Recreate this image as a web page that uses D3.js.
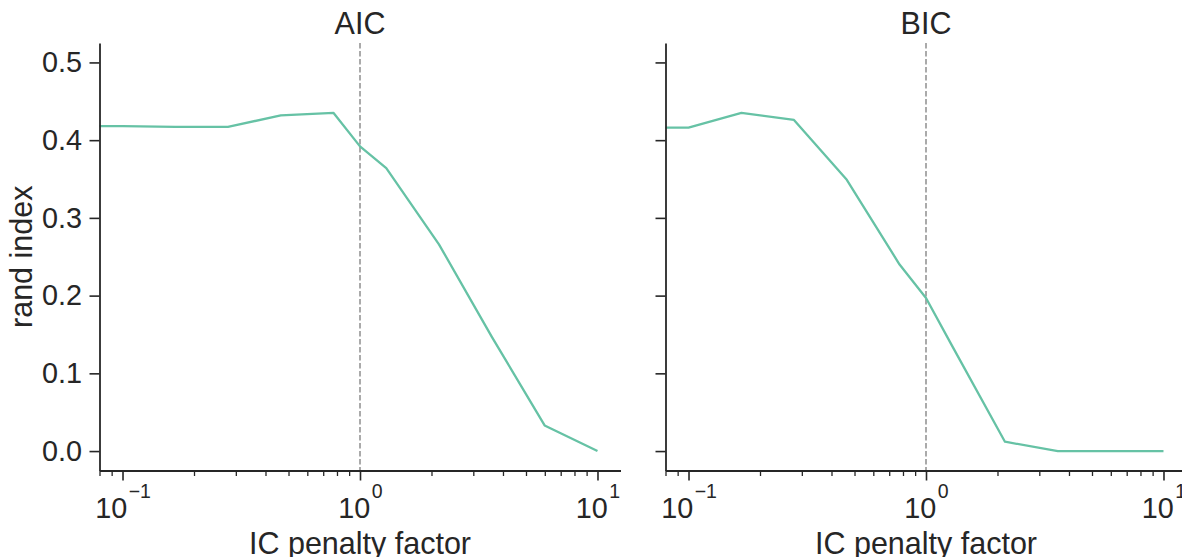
<!DOCTYPE html>
<html>
<head>
<meta charset="utf-8">
<script src="https://cdn.jsdelivr.net/npm/d3@7"></script>
<style>
  html, body { margin: 0; padding: 0; background: #fff; overflow: hidden; }
  svg { display: block; font-family: "Liberation Sans", Arial, sans-serif; }
  .axis text { fill: #262626; }
  .axis path, .axis line { stroke: #262626; }
</style>
</head>
<body>
<svg id="chart" width="1182" height="557"></svg>
<script>
// IC penalty factors (the first entry lies below the visible x range)
const penaltyFactors = [0.01, 0.1, 0.167, 0.278, 0.464, 0.774, 1.0, 1.29, 2.15, 3.59, 5.99, 10];
// rand index per penalty factor
const aicRandIndex = [0.418, 0.418, 0.417, 0.417, 0.432, 0.435, 0.392, 0.364, 0.266, 0.147, 0.033, 0.0];
const bicRandIndex = [0.416, 0.416, 0.435, 0.426, 0.349, 0.240, 0.197, 0.135, 0.012, 0.0, 0.0, 0.0];
const panelTitles = ["AIC", "BIC"];
const yTicks = [0.0, 0.1, 0.2, 0.3, 0.4, 0.5];
const xMajorTicks = [0.1, 1, 10];
const xTickExponents = ["\u22121", "0", "1"];
const referenceFactor = 1;
const xLimits = [0.08, 12.5];
const yLimits = [-0.025, 0.525];

const svg = d3.select("#chart");
const lineColor = "#66c2a5";
const plotTop = 43, plotBottom = 470.5;
const panelLefts = [99.5, 665.5];
const panelWidth = 521;
const tickFont = 28.8, labelFont = 30.5;

const series = [aicRandIndex, bicRandIndex];

// minor ticks of the log axis: 2..9 multiples inside the limits
const xMinorTicks = [];
for (let e = -2; e <= 1; e++) {
  for (let m = 2; m <= 9; m++) {
    const v = m * Math.pow(10, e);
    if (v >= xLimits[0] - 1e-9 && v <= xLimits[1]) xMinorTicks.push(v);
  }
}

panelTitles.forEach((title, i) => {
  const x0 = panelLefts[i], x1 = x0 + panelWidth;
  const x = d3.scaleLog().domain(xLimits).range([x0, x1]);
  const y = d3.scaleLinear().domain(yLimits).range([plotBottom, plotTop]);
  const g = svg.append("g");

  const clipId = "clip" + i;
  svg.append("defs").append("clipPath").attr("id", clipId)
    .append("rect").attr("x", x0).attr("y", plotTop).attr("width", panelWidth).attr("height", plotBottom - plotTop);

  // reference line at penalty factor 1
  g.append("line")
    .attr("x1", x(referenceFactor)).attr("x2", x(referenceFactor))
    .attr("y1", plotTop).attr("y2", plotBottom)
    .attr("stroke", "#aaaaaa").attr("stroke-width", 2)
    .attr("stroke-dasharray", "5.5,2.5");

  // rand index curve
  const data = penaltyFactors.map((f, k) => ({ f, v: series[i][k] }));
  g.append("path")
    .datum(data)
    .attr("clip-path", `url(#${clipId})`)
    .attr("fill", "none")
    .attr("stroke", lineColor)
    .attr("stroke-width", 2.3)
    .attr("stroke-linejoin", "round")
    .attr("d", d3.line().x(d => x(d.f)).y(d => y(d.v)));

  // y axis
  const yAxis = g.append("g").attr("class", "axis")
    .attr("transform", `translate(${x0},0)`)
    .call(d3.axisLeft(y).tickValues(yTicks).tickSize(10).tickSizeOuter(0).tickPadding(7.5)
      .tickFormat(i === 0 ? d3.format(".1f") : () => ""));
  yAxis.select(".domain").attr("stroke-width", 1.8);
  yAxis.selectAll(".tick line").attr("stroke-width", 1.6);
  yAxis.selectAll("text").attr("font-size", tickFont).attr("font-family", "Liberation Sans, Arial, sans-serif");

  // x axis: minor ticks
  const xMinor = g.append("g").attr("class", "axis")
    .attr("transform", `translate(0,${plotBottom})`)
    .call(d3.axisBottom(x).tickValues(xMinorTicks).tickSize(5.5).tickSizeOuter(0).tickFormat(() => ""));
  xMinor.select(".domain").remove();
  xMinor.selectAll(".tick line").attr("stroke-width", 1.3);

  // x axis: major ticks and spine
  const xAxis = g.append("g").attr("class", "axis")
    .attr("transform", `translate(0,${plotBottom})`)
    .call(d3.axisBottom(x).tickValues(xMajorTicks).tickSize(10).tickSizeOuter(0).tickFormat(() => ""));
  xAxis.select(".domain").attr("stroke-width", 1.8);
  xAxis.selectAll(".tick line").attr("stroke-width", 1.6);

  // power-of-ten labels with superscript exponent
  xAxis.selectAll(".tick").each(function (d, k) {
    const t = d3.select(this).select("text")
      .attr("y", 0).attr("dy", null)
      .attr("transform", "translate(0,47)")
      .attr("text-anchor", "middle")
      .attr("font-size", tickFont)
      .text(null);
    t.append("tspan").text("10");
    t.append("tspan").attr("font-size", 19.5).attr("dy", -19.5).attr("dx", 1.5).text(xTickExponents[k]);
  });

  // panel title
  g.append("text")
    .attr("x", (x0 + x1) / 2).attr("y", 34)
    .attr("text-anchor", "middle").attr("font-size", labelFont).attr("fill", "#262626")
    .text(title);

  // x label
  g.append("text")
    .attr("x", (x0 + x1) / 2).attr("y", 554)
    .attr("text-anchor", "middle").attr("font-size", labelFont).attr("fill", "#262626")
    .text("IC penalty factor");

  if (i === 0) {
    g.append("text")
      .attr("transform", `translate(32,${(plotTop + plotBottom) / 2}) rotate(-90)`)
      .attr("text-anchor", "middle").attr("font-size", labelFont).attr("fill", "#262626")
      .text("rand index");
  }
});
</script>
</body>
</html>
